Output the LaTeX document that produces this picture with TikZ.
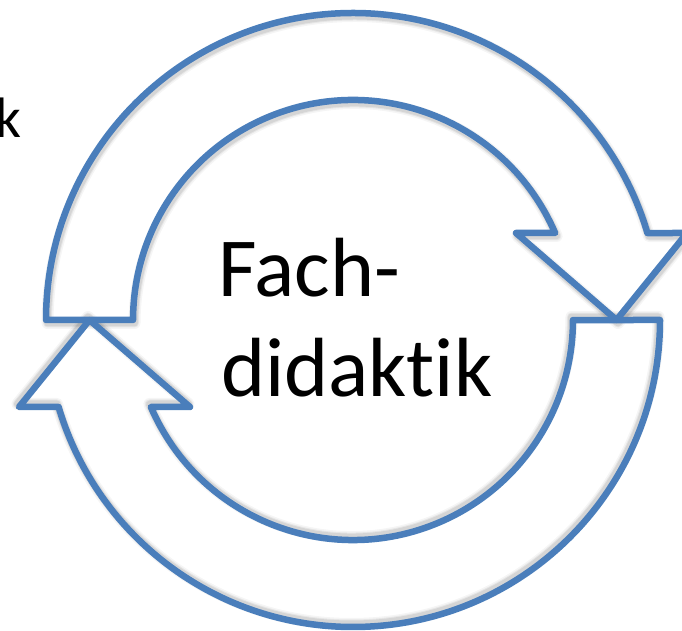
\documentclass[tikz,border=0pt]{standalone}
\usepackage{fontspec}
\setmainfont{Carlito}[Ligatures=NoCommon]
\definecolor{cycleblue}{HTML}{4A7EBB}
\begin{document}
\begin{tikzpicture}[x=1pt,y=1pt,
  cyclearrow/.style={draw=cycleblue, line width=6.5pt, line join=round},
  softshadow/.style={draw=black, line join=round},
  label/.style={inner sep=0pt, anchor=base west, font=\fontsize{84}{100}\selectfont}]
\useasboundingbox (0,0) rectangle (682,631);
\coordinate (c) at (353,311);
% one circular arrow: outer arc, head pointing down at the right, inner arc back
\def\cyclepath{(46,311) arc[start angle=180, end angle=16.46, radius=307pt]
  -- (687,398) -- (616.5,311) -- (516,398) -- (555.1,398)
  arc[start angle=23.29, end angle=180, radius=220pt] -- cycle}
% soft shadows under the outlines
\foreach \w/\o in {12/0.04, 9/0.06, 7/0.08} {
  \draw[softshadow, line width=\w pt, opacity=\o, shift={(1.5,-3)}] \cyclepath;
  \draw[softshadow, line width=\w pt, opacity=\o, shift={(-1.5,3)}, rotate around={180:(c)}, shift={(3,-6)}] \cyclepath;
}
% upper arrow (clockwise over the top)
\path[cyclearrow] \cyclepath;
% lower arrow: the same shape turned half a circle
\path[cyclearrow, rotate around={180:(c)}] \cyclepath;
% text
\node[label] (fach) at (218,334) {Fach-};
\node[label] (didaktik) at (221,234) {didaktik};
\node[inner sep=0pt, anchor=base west, font=\fontsize{57}{68}\selectfont] (k) at (-5,493) {k};
\end{tikzpicture}
\end{document}
